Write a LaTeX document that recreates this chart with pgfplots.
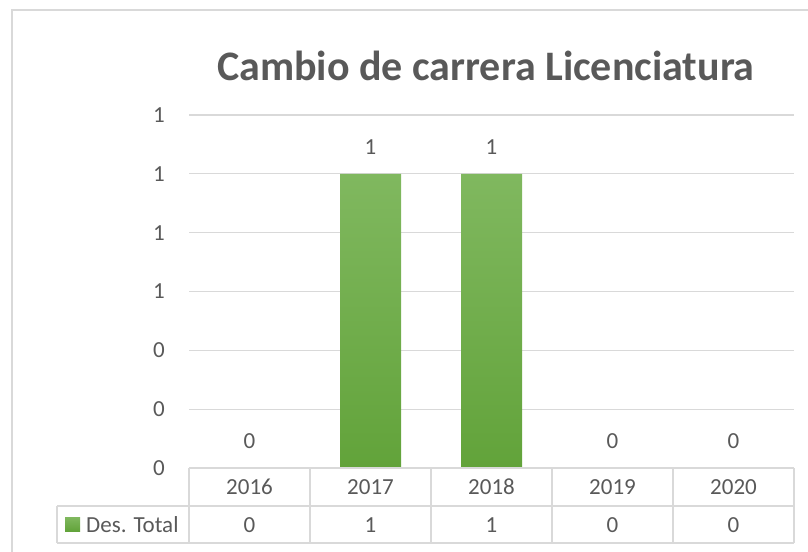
\documentclass[border=0pt]{standalone}
\usepackage{fontspec}
\setmainfont{Carlito}
\usepackage{pgfplots}
\pgfplotsset{compat=1.18}
\definecolor{txtgray}{HTML}{595959}
\definecolor{gridgray}{HTML}{D9D9D9}
\definecolor{bartop}{HTML}{80B85F}
\definecolor{barbot}{HTML}{62A33A}
\newcommand{\hr}{\rule{0pt}{17bp}}
\begin{document}
\begin{tikzpicture}
\path[use as bounding box] (0,0) rectangle (808bp,-552bp);
% outer chart border
\draw[gridgray, line width=1.5bp] (12bp,-552bp) -- (12bp,-10bp) -- (808bp,-10bp);
% title
\node[font=\fontsize{42bp}{48bp}\selectfont\bfseries, text=txtgray, anchor=base] at (486bp,-80bp) {Cambio de carrera Licenciatura};
\begin{axis}[
  at={(189bp,-468bp)}, anchor=south west,
  scale only axis, width=605bp, height=353bp,
  xmin=-0.5, xmax=4.5, ymin=0, ymax=1.2,
  axis line style={draw=none},
  ymajorgrids, grid style={gridgray, line width=1.3bp},
  ytick={0,0.2,0.4,0.6,0.8,1.0,1.2},
  yticklabels={0,0,0,1,1,1,1},
  major tick length=0pt,
  yticklabel style={font=\fontsize{23bp}{27bp}\selectfont, text=txtgray, anchor=east, inner sep=0pt, xshift=-24bp},
  xtick={0,1,2,3,4},
  xticklabels={{\hr 2016\\0},{\hr 2017\\1},{\hr 2018\\1},{\hr 2019\\0},{\hr 2020\\0}},
  xticklabel style={font=\fontsize{23bp}{37.5bp}\selectfont, text=txtgray, align=center, anchor=north, inner sep=0pt, yshift=-9.5bp},
  /pgf/number format/assume math mode=true,
  clip=false,
]
\addplot[ybar, bar width=61bp, draw=none, top color=bartop, bottom color=barbot,
  nodes near coords,
  every node near coord/.append style={font=\fontsize{23bp}{27bp}\selectfont, text=txtgray, anchor=south, inner sep=0pt, yshift=19bp}]
  coordinates {(0,0) (1,1) (2,1) (3,0) (4,0)};
\end{axis}
% data table lines
\begin{scope}[gridgray, line width=1.5bp]
\draw (189bp,-468bp) -- (794bp,-468bp);
\draw (57bp,-506bp) -- (794bp,-506bp);
\draw (57bp,-543bp) -- (794bp,-543bp);
\draw (57bp,-506bp) -- (57bp,-543bp);
\foreach \x in {189,310,431,552,673,794} \draw (\x bp,-468bp) -- (\x bp,-543bp);
\end{scope}
% legend key
\fill[bottom color=barbot, top color=bartop] (65bp,-531bp) rectangle (80bp,-517bp);
\node[font=\fontsize{23bp}{27bp}\selectfont, text=txtgray, anchor=base west, inner sep=0pt] at (86bp,-532bp) {Des. Total};
\end{tikzpicture}
\end{document}
